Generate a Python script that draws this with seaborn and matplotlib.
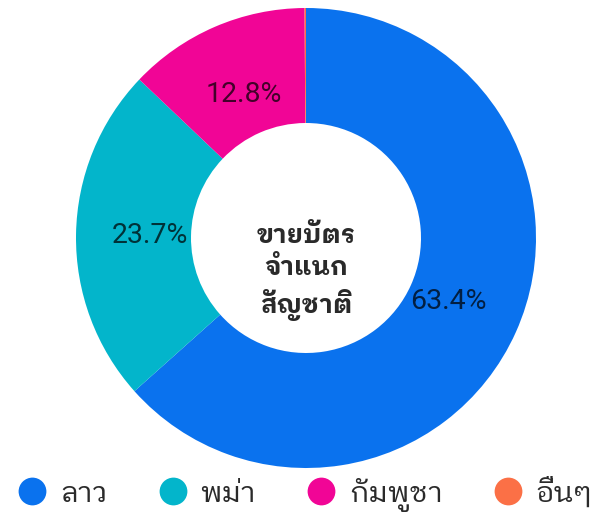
import matplotlib
matplotlib.use("Agg")
import matplotlib.pyplot as plt
from matplotlib.lines import Line2D
import seaborn as sns

# Ticket sales by nationality
categories = ["ลาว", "พม่า", "กัมพูชา", "อื่นๆ"]
shares = [63.4, 23.7, 12.8, 0.1]
center_title = "ขายบัตร\nจำแนก\nสัญชาติ"
palette = ["#0a72ee", "#03b5cb", "#f10596", "#fb7046"]

sns.set_theme(style="white")
plt.rcParams["font.family"] = ["Roboto", "IBM Plex Sans Thai Looped", "DejaVu Sans"]
thai = ["IBM Plex Sans Thai Looped", "Noto Sans Thai Looped", "DejaVu Sans"]

colors = sns.color_palette(palette)

fig = plt.figure(figsize=(5.94, 5.14), dpi=100)
ax = fig.add_axes([76 / 594, 46 / 514, 460 / 594, 460 / 514])

wedges, _, autotexts = ax.pie(
    shares,
    colors=colors,
    startangle=90,
    counterclock=False,
    radius=1.0,
    wedgeprops=dict(width=0.5, linewidth=0),
    autopct=lambda p: f"{p:.1f}%" if p >= 1 else "",
    pctdistance=0.68,
    textprops=dict(fontsize=20.5, fontweight="normal", color="black", alpha=0.72),
)
ax.set_xlim(-1, 1)
ax.set_ylim(-1, 1)
ax.set_axis_off()

ax.text(0, -0.15, center_title, ha="center", va="center", family=thai,
        fontsize=18.5, fontweight="bold", color="#2a2a2a", linespacing=1.38)

handles = [Line2D([], [], marker="o", linestyle="", markersize=20,
                  markerfacecolor=c, markeredgewidth=0) for c in colors]
fig.legend(handles, categories, loc="center", bbox_to_anchor=(306 / 594, 20 / 514),
           ncol=4, frameon=False, prop=dict(family=thai, size=21),
           handlelength=0.9, handletextpad=0.5, columnspacing=1.78,
           labelcolor="#2a2a2a")

fig.savefig("out.png", dpi=100)
